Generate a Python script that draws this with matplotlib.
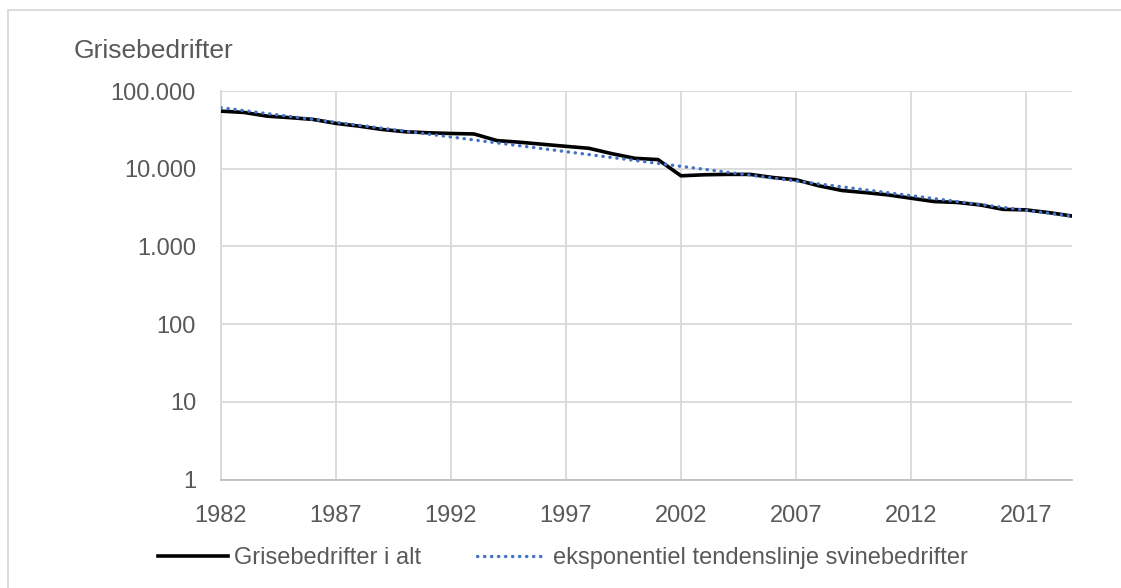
import numpy as np
import matplotlib.pyplot as plt
from matplotlib.patches import Rectangle

plt.rcParams['font.family'] = ['Liberation Sans', 'DejaVu Sans']

# data
years = list(range(1982, 2020))
farms = [55000, 53000, 47500, 45400, 43100, 38300, 35300, 32000, 29900, 29000,
         28400, 28000, 23000, 21900, 20600, 19400, 18300, 15600, 13600, 13100,
         8100, 8350, 8450, 8450, 7700, 7200, 6020, 5240, 4930, 4600,
         4170, 3780, 3680, 3420, 3000, 2950, 2720, 2460]

trend_years = [1982, 2019]
trend_values = [61000, 2450]

y_ticks = [1, 10, 100, 1000, 10000, 100000]
y_labels = ['1', '10', '100', '1.000', '10.000', '100.000']
x_ticks = [1982, 1987, 1992, 1997, 2002, 2007, 2012, 2017]

label_fs = 17
title_fs = 19
text_color = "#595959"
grid_color = "#d9d9d9"
trend_color = "#4472C4"

W, H = 1121, 588
fig = plt.figure(figsize=(W / 100, H / 100), dpi=100)
ax = fig.add_axes([221 / W, 1 - 479.5 / H, (1072 - 221) / W, (479.5 - 91) / H])

l0, = ax.plot(years, farms, color='black', linewidth=2.6, label='Grisebedrifter i alt', zorder=3)
l1, = ax.plot(trend_years, trend_values, color=trend_color, linewidth=2.4,
              linestyle=(0, (0.1, 2.0)), dash_capstyle='round',
              label='eksponentiel tendenslinje svinebedrifter', zorder=4)

ax.set_yscale('log')
ax.set_ylim(1, 100000)
ax.set_xlim(1982, 2019)
ax.set_yticks(y_ticks, y_labels)
ax.set_xticks(x_ticks)
ax.minorticks_off()
ax.tick_params(axis='both', length=0, labelsize=label_fs, labelcolor=text_color)
ax.tick_params(axis='y', pad=18)
ax.tick_params(axis='x', pad=18)
ax.grid(True, color=grid_color, linewidth=1.3)
ax.set_axisbelow(True)
for s in ['top', 'right']:
    ax.spines[s].set_visible(False)
ax.spines['left'].set_color(grid_color)
ax.spines['left'].set_linewidth(1.3)
ax.spines['bottom'].set_color("#bfbfbf")
ax.spines['bottom'].set_linewidth(1.3)

fig.text(74 / W, 1 - 58 / H, 'Grisebedrifter', fontsize=title_fs, color=text_color,
         ha='left', va='baseline')

fig.legend(handles=[l0, l1], loc='center', bbox_to_anchor=(563 / W, 1 - 558 / H),
           ncol=2, frameon=False, fontsize=label_fs, labelcolor=text_color,
           handlelength=2.95, handletextpad=0.25, columnspacing=2.4)

# chart area border
fig.patches.append(Rectangle((8 / W, -0.1), 1.2, 1 - 10 / H + 0.1, transform=fig.transFigure,
                             fill=False, edgecolor=grid_color, linewidth=1.3))

fig.savefig('out.png', dpi=100)
